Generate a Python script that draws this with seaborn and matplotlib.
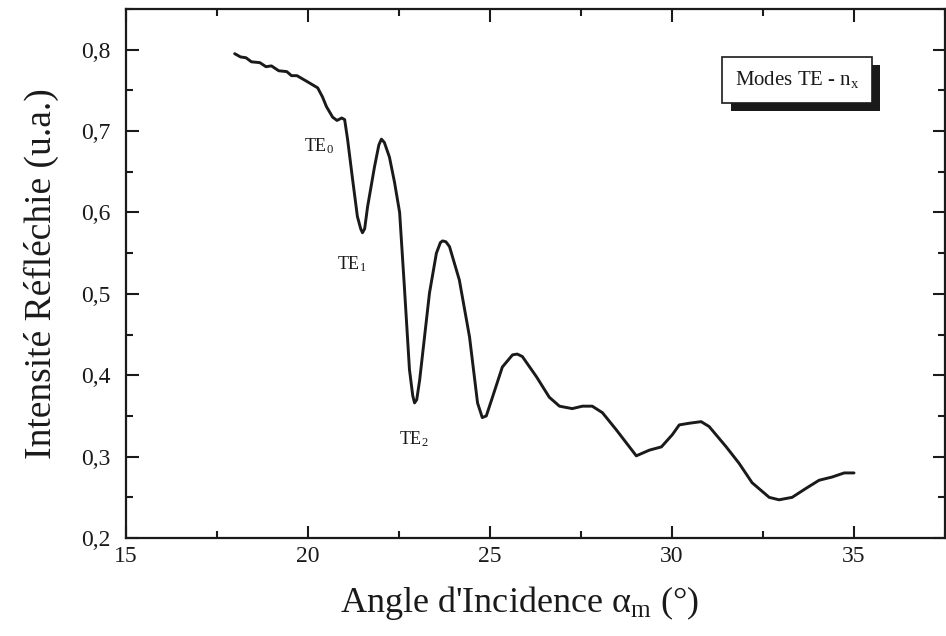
import numpy as np
import pandas as pd
import matplotlib
matplotlib.use("Agg")
import matplotlib.pyplot as plt
import matplotlib.patheffects as pe
from matplotlib.ticker import MultipleLocator, FuncFormatter
import seaborn as sns

angle = [17.99, 18.15, 18.3, 18.45, 18.68, 18.85, 19.0, 19.2, 19.42, 19.55, 19.7, 19.97,
         20.27, 20.40, 20.51, 20.68, 20.80,
         20.93, 21.01, 21.09, 21.23, 21.36, 21.45, 21.50, 21.56, 21.64, 21.83, 21.95, 22.02,
         22.10, 22.24, 22.38, 22.52, 22.65, 22.79, 22.88, 22.93, 22.99, 23.07, 23.34, 23.53,
         23.64, 23.70, 23.79, 23.89, 24.16, 24.44, 24.66, 24.79, 24.90, 25.07, 25.34, 25.62,
         25.75, 25.89, 26.28, 26.63, 26.91, 27.26, 27.54, 27.81, 28.09, 28.47, 29.02, 29.38,
         29.71, 30.01, 30.20, 30.47, 30.80, 31.02, 31.49, 31.84, 32.20, 32.67, 32.94, 33.30,
         33.68, 34.04, 34.40, 34.73, 35.00]
intensity = [0.795, 0.791, 0.790, 0.785, 0.784, 0.779, 0.780, 0.774, 0.773, 0.768, 0.768, 0.761,
             0.753, 0.742, 0.730, 0.717, 0.713,
             0.716, 0.714, 0.690, 0.640, 0.595, 0.580, 0.575, 0.580, 0.607, 0.656, 0.683, 0.690,
             0.686, 0.668, 0.637, 0.600, 0.509, 0.407, 0.375, 0.366, 0.370, 0.394, 0.501, 0.550,
             0.563, 0.565, 0.564, 0.558, 0.517, 0.447, 0.366, 0.348, 0.350, 0.373, 0.410, 0.425,
             0.426, 0.423, 0.398, 0.373, 0.362, 0.359, 0.362, 0.362, 0.354, 0.333, 0.301, 0.308,
             0.312, 0.327, 0.339, 0.341, 0.343, 0.337, 0.312, 0.292, 0.268, 0.250, 0.247, 0.250,
             0.261, 0.271, 0.275, 0.280, 0.280]

x_ticks = [15, 20, 25, 30, 35]
y_ticks = [0.2, 0.3, 0.4, 0.5, 0.6, 0.7, 0.8]
mode_labels = ["TE$_0$", "TE$_1$", "TE$_2$"]
mode_pos = [(20.3, 0.682), (21.2, 0.537), (22.9, 0.322)]

sns.set_theme(style="ticks")
plt.rcParams['font.family'] = ['Liberation Serif', 'DejaVu Serif']
plt.rcParams['mathtext.fontset'] = 'custom'
plt.rcParams['mathtext.rm'] = 'Liberation Serif'
plt.rcParams['mathtext.it'] = 'Liberation Serif:italic'

df = pd.DataFrame({"angle": angle, "intensity": intensity})

fig, ax = plt.subplots(figsize=(9.46, 6.36), dpi=100)
fig.subplots_adjust(left=0.133, right=0.999, bottom=0.154, top=0.986)

sns.lineplot(data=df, x="angle", y="intensity", ax=ax, color="#1a1a1a", linewidth=2.1, sort=False)

ax.set_xlim(15, 37.5)
ax.set_ylim(0.2, 0.85)
ax.set_xticks(x_ticks)
ax.set_yticks(y_ticks)
ax.xaxis.set_minor_locator(MultipleLocator(2.5))
ax.yaxis.set_minor_locator(MultipleLocator(0.05))
ax.yaxis.set_major_formatter(FuncFormatter(lambda v, p: f"{v:.1f}".replace(".", ",")))
ax.tick_params(which="both", direction="in", top=True, right=True, width=1.5, labelsize=17, colors="#1a1a1a")
ax.tick_params(which="major", length=9)
ax.tick_params(axis="x", which="major", pad=6)
ax.tick_params(axis="y", which="major", pad=11)
ax.tick_params(which="minor", length=5)
for s in ax.spines.values():
    s.set_linewidth(1.6)
    s.set_color("#1a1a1a")

ax.set_xlabel("Angle d'Incidence α$_{\\rm m}$ (°)", fontsize=26, labelpad=12, color="#1a1a1a")
ax.set_ylabel("Intensité Réfléchie (u.a.)", fontsize=27, labelpad=16, color="#1a1a1a")
ax.xaxis.label.set_x(0.48)

for lab, (xx, yy) in zip(mode_labels, mode_pos):
    ax.text(xx, yy, lab, fontsize=13, ha="center", va="center", color="#1a1a1a")

t = ax.text(33.44, 0.763, "Modes TE - n$_{\\rm x}$", fontsize=15, ha="center", va="center", color="#1a1a1a",
            bbox=dict(boxstyle="square,pad=0.6", facecolor="white", edgecolor="#1a1a1a", linewidth=1.2))
t.get_bbox_patch().set_path_effects([pe.SimplePatchShadow(offset=(6, -6), shadow_rgbFace="#1a1a1a", alpha=1.0), pe.Normal()])

fig.savefig("out.png", dpi=100)
